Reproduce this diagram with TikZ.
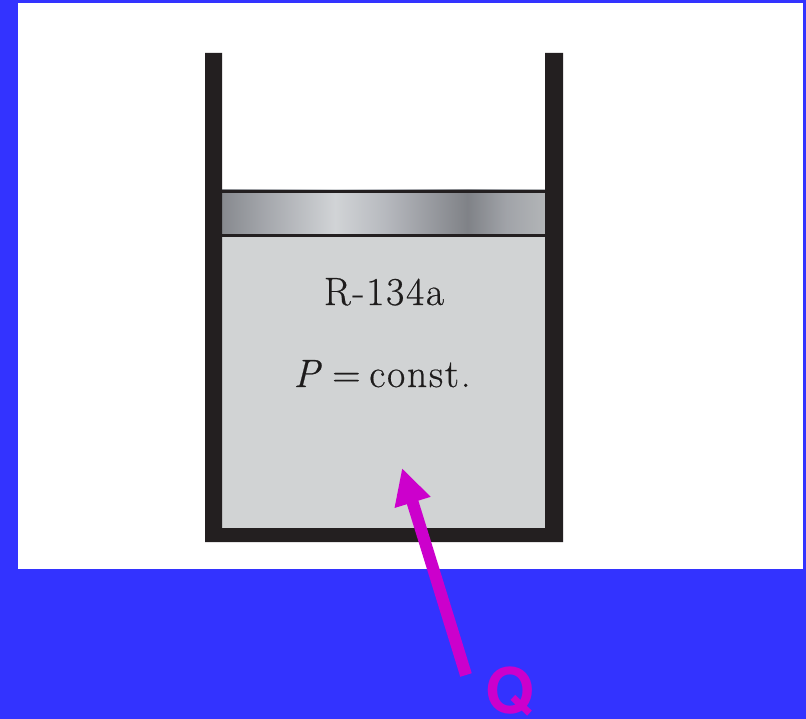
\documentclass[tikz,border=0pt]{standalone}
\usepackage{fontspec}
\setmainfont{Latin Modern Roman}[LetterSpace=4.5,FakeBold=0.5]
\newfontfamily\qfont{TeX Gyre Heros}
\usetikzlibrary{arrows.meta}
\definecolor{bgblue}{HTML}{3333FF}
\definecolor{wall}{HTML}{231F20}
\definecolor{gas}{HTML}{D1D3D4}
\definecolor{heat}{HTML}{CC00CC}
\definecolor{labeltext}{HTML}{1E1C1C}
\tikzset{
  wallfill/.style={fill=wall,draw=none},
  gaslabel/.style={anchor=base,inner sep=0pt,outer sep=0pt,text=labeltext,font=\fontsize{39.5}{44}\selectfont},
  heatarrow/.style={draw=heat,line width=12pt,-{Triangle[length=36pt,width=35pt]}}
}
\pgfdeclarehorizontalshading{pistongrad}{100bp}{
  rgb(0bp)=(.53,.54,.56);
  rgb(25bp)=(.53,.54,.56);
  rgb(32bp)=(.65,.66,.68);
  rgb(42.5bp)=(.82,.83,.84);
  rgb(50bp)=(.72,.73,.75);
  rgb(63bp)=(.50,.51,.53);
  rgb(69bp)=(.63,.64,.66);
  rgb(75bp)=(.70,.71,.72);
  rgb(100bp)=(.70,.71,.72)}
\begin{document}
\begin{tikzpicture}[x=1pt,y=-1pt]
\useasboundingbox (0,0) rectangle (806,719);
\fill[bgblue] (0,0) rectangle (806,719);
\fill[white] (18,3) rectangle (803,569);
% gas
\fill[gas] (222,237) rectangle (545,528);
% piston
\shade[shading=pistongrad] (222,190) rectangle (545,237);
\fill[wall] (222,190) rectangle (545,193);
\fill[wall] (222,234) rectangle (545,237);
% cylinder
\fill[wallfill] (205,53) -- (222,53) -- (222,528) -- (545,528) -- (545,53) -- (563,53) -- (563,542) -- (205,542) -- cycle;
% labels
\node[gaslabel] (fluid) at (384,305) {R-134a};
\node[gaslabel] (press) at (382,387) {\textit{P}\hspace{-5pt} = \hspace{-5pt}const.};
% heat
\coordinate (tail) at (466,675);
\coordinate (tip) at (402,468);
\draw[heatarrow] (tail) -- (tip);
\node[anchor=base,inner sep=0pt,text=heat,font=\fontsize{63}{70}\selectfont\qfont\bfseries] (q) at (510.5,713.5) {Q};
\end{tikzpicture}
\end{document}
